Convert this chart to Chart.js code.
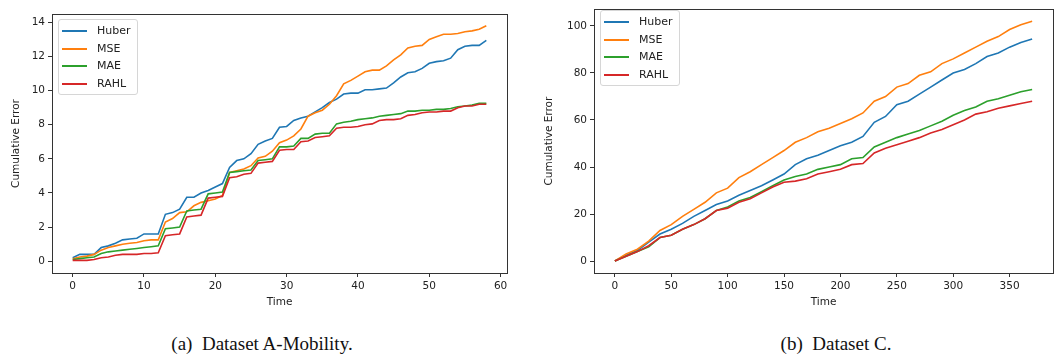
<!DOCTYPE html>
<html>
<head>
<meta charset="utf-8">
<script src="https://cdn.jsdelivr.net/npm/chart.js@4"></script>
<style>
  body { margin: 0; background: #fff; width: 1054px; height: 360px; position: relative; overflow: hidden; }
  .box { position: absolute; }
  .legend { position: absolute; background: rgba(255,255,255,0.85); border: 1px solid #d6d6d6; border-radius: 3px;
            font-family: "DejaVu Sans", sans-serif; font-size: 11px; color: #222; padding: 2px 6px 2px 3px; }
  .legend div { height: 17.5px; line-height: 17.5px; white-space: nowrap; }
  .legend span.sw { display: inline-block; width: 25px; height: 2px; vertical-align: middle; margin-right: 10px; }
  .caption { position: absolute; top: 333px; transform: translateX(-50%); white-space: nowrap;
             font-family: "Liberation Serif", "Times New Roman", serif; font-size: 19px; color: #111; }
</style>
</head>
<body>
<div class="box" style="left:0;top:0;width:515px;height:309px"><canvas id="chartA"></canvas></div>
<div class="box" style="left:536px;top:0;width:518px;height:309px"><canvas id="chartB"></canvas></div>
<div class="legend" id="legA" style="left:58px;top:19px"></div>
<div class="legend" id="legB" style="left:600px;top:10px"></div>
<div class="caption" style="left:262px">(a)&nbsp; Dataset A-Mobility.</div>
<div class="caption" style="left:836px">(b)&nbsp; Dataset C.</div>
<script>
// series names and colours
const seriesNames = ['Huber', 'MSE', 'MAE', 'RAHL'];
const seriesColors = ['#1f77b4', '#ff7f0e', '#2ca02c', '#d62728'];

// Dataset A-Mobility, one value per time step 0..58
const huberA = [0.2, 0.4, 0.4, 0.4, 0.8, 0.9, 1.05, 1.25, 1.3, 1.35, 1.6, 1.6, 1.6, 2.75, 2.85, 3.05, 3.75, 3.75, 4.0, 4.15,
  4.35, 4.55, 5.5, 5.9, 6.0, 6.3, 6.85, 7.05, 7.2, 7.85, 7.9, 8.25, 8.4, 8.5, 8.75, 9.0, 9.3, 9.5, 9.8, 9.85,
  9.85, 10.05, 10.05, 10.1, 10.15, 10.45, 10.8, 11.05, 11.1, 11.3, 11.6, 11.7, 11.75, 11.9, 12.4, 12.6, 12.65, 12.65, 12.95];
const mseA = [0.15, 0.25, 0.3, 0.4, 0.65, 0.8, 0.9, 1.0, 1.05, 1.1, 1.2, 1.25, 1.25, 2.3, 2.5, 2.85, 2.9, 3.25, 3.45, 3.55,
  3.65, 3.85, 5.2, 5.3, 5.4, 5.6, 6.05, 6.15, 6.45, 6.95, 7.1, 7.35, 7.75, 8.5, 8.7, 8.85, 9.2, 9.7, 10.4, 10.6,
  10.85, 11.1, 11.2, 11.2, 11.45, 11.8, 12.1, 12.5, 12.6, 12.65, 13.0, 13.15, 13.3, 13.3, 13.35, 13.45, 13.5, 13.6, 13.8];
const maeA = [0.1, 0.15, 0.2, 0.25, 0.45, 0.55, 0.6, 0.65, 0.7, 0.75, 0.8, 0.85, 0.9, 1.9, 1.95, 2.0, 2.95, 3.0, 3.05, 3.95,
  4.0, 4.05, 5.2, 5.25, 5.3, 5.35, 5.9, 5.95, 6.0, 6.7, 6.7, 6.75, 7.2, 7.2, 7.45, 7.5, 7.5, 8.05, 8.15, 8.2,
  8.3, 8.35, 8.4, 8.5, 8.55, 8.6, 8.65, 8.8, 8.8, 8.85, 8.85, 8.9, 8.9, 8.95, 9.05, 9.1, 9.15, 9.25, 9.25];
const rahlA = [0.05, 0.05, 0.05, 0.1, 0.2, 0.25, 0.35, 0.4, 0.4, 0.4, 0.45, 0.45, 0.5, 1.5, 1.55, 1.6, 2.6, 2.65, 2.7, 3.7,
  3.75, 3.8, 4.9, 4.95, 5.1, 5.15, 5.75, 5.8, 5.85, 6.5, 6.55, 6.55, 7.0, 7.05, 7.25, 7.3, 7.35, 7.8, 7.85, 7.85,
  7.9, 8.0, 8.05, 8.25, 8.3, 8.3, 8.35, 8.55, 8.6, 8.7, 8.75, 8.75, 8.8, 8.8, 9.0, 9.1, 9.1, 9.2, 9.2];
const timeA = huberA.map((_, i) => i);

// Dataset C, read every 10 time steps 0..370
const timeB = [0, 10, 20, 30, 40, 50, 60, 70, 80, 90, 100, 110, 120, 130, 140, 150, 160, 170, 180, 190,
  200, 210, 220, 230, 240, 250, 260, 270, 280, 290, 300, 310, 320, 330, 340, 350, 360, 370];
const huberB = [0, 2.5, 4.5, 8, 11.5, 13.5, 16, 19, 21.5, 24, 25.5, 28, 30, 32, 34.5, 37, 41, 43.5, 45, 47,
  49, 50.5, 53, 59, 61.5, 66.5, 68, 71, 74, 77, 80, 81.5, 84, 87, 88.5, 91, 93, 94.5];
const mseB = [0, 3, 5, 8.5, 13, 15.5, 19, 22, 25, 29, 31, 35.5, 38, 41, 44, 47, 50.5, 52.5, 55, 56.5,
  58.5, 60.5, 63, 68, 70, 74, 75.5, 79, 80.5, 84, 86, 88.5, 91, 93.5, 95.5, 98.5, 100.5, 102];
const maeB = [0, 2, 4, 6, 10, 11, 13.5, 15.5, 18, 21.5, 23, 25.5, 27, 29.5, 32, 34.5, 36, 37, 39, 40,
  41, 43.5, 44, 48.5, 50.5, 52.5, 54, 55.5, 57.5, 59.5, 62, 64, 65.5, 68, 69, 70.5, 72, 73];
const rahlB = [0, 2, 4, 6.5, 10, 11, 13.5, 15.5, 18, 21.5, 22.5, 25, 26.5, 29, 31.5, 33.5, 34, 35, 37, 38,
  39, 41, 41.5, 46, 48, 49.5, 51, 52.5, 54.5, 56, 58, 60, 62.5, 63.5, 65, 66, 67, 68];

const tickFont = { family: 'DejaVu Sans', size: 10.5 };

// full box around the plot area like matplotlib spines
const frame = {
  id: 'frame',
  afterDraw(chart) {
    const a = chart.chartArea, ctx = chart.ctx;
    ctx.save();
    ctx.strokeStyle = '#333';
    ctx.lineWidth = 1;
    ctx.strokeRect(Math.round(a.left) + 0.5, Math.round(a.top) + 0.5, Math.round(a.right - a.left), Math.round(a.bottom - a.top));
    ctx.restore();
  }
};

function makeDatasets(times, lists) {
  return lists.map((vals, k) => ({
    label: seriesNames[k],
    data: vals.map((v, i) => ({ x: times[i], y: v })),
    borderColor: seriesColors[k],
    borderWidth: 1.6,
    pointRadius: 0,
    tension: 0,
    order: 4 - k
  }));
}

function makeChart(id, datasets, o) {
  return new Chart(document.getElementById(id), {
    type: 'line',
    data: { datasets: datasets },
    options: {
      responsive: true,
      maintainAspectRatio: false,
      animation: false,
      layout: { padding: { left: o.padLeft, top: o.padTop, right: o.padRight, bottom: 0 } },
      plugins: { legend: { display: false }, tooltip: { enabled: false } },
      scales: {
        x: {
          type: 'linear', min: o.xmin, max: o.xmax,
          grid: { drawOnChartArea: false, drawTicks: true, tickLength: 4, color: '#333' },
          border: { display: false },
          ticks: { stepSize: o.xstep, includeBounds: false, font: tickFont, color: '#222', padding: 3, maxRotation: 0 },
          title: { display: true, text: 'Time', font: tickFont, color: '#222', padding: 0 },
          afterFit(s) { s.height = 36; }
        },
        y: {
          min: o.ymin, max: o.ymax,
          grid: { drawOnChartArea: false, drawTicks: true, tickLength: 4, color: '#333' },
          border: { display: false },
          ticks: { stepSize: o.ystep, includeBounds: false, font: tickFont, color: '#222', padding: 3 },
          title: { display: true, text: 'Cumulative Error', font: tickFont, color: '#222', padding: 0 },
          afterFit(s) { s.width = o.yWidth; }
        }
      }
    },
    plugins: [frame]
  });
}

makeChart('chartA', makeDatasets(timeA, [huberA, mseA, maeA, rahlA]),
  { padLeft: 10, padTop: 14, padRight: 8, xmin: -2.9, xmax: 60.9, xstep: 10, ymin: -0.69, ymax: 14.49, ystep: 2, yWidth: 42 });
makeChart('chartB', makeDatasets(timeB, [huberB, mseB, maeB, rahlB]),
  { padLeft: 7, padTop: 4, padRight: 1, xmin: -18.5, xmax: 388.5, xstep: 50, ymin: -5.1, ymax: 107.1, ystep: 20, yWidth: 51 });

// legends as real text
function buildLegend(id) {
  const el = document.getElementById(id);
  seriesNames.forEach((n, k) => {
    const row = document.createElement('div');
    row.innerHTML = '<span class="sw" style="background:' + seriesColors[k] + '"></span>' + n;
    el.appendChild(row);
  });
}
buildLegend('legA');
buildLegend('legB');
</script>
</body>
</html>
